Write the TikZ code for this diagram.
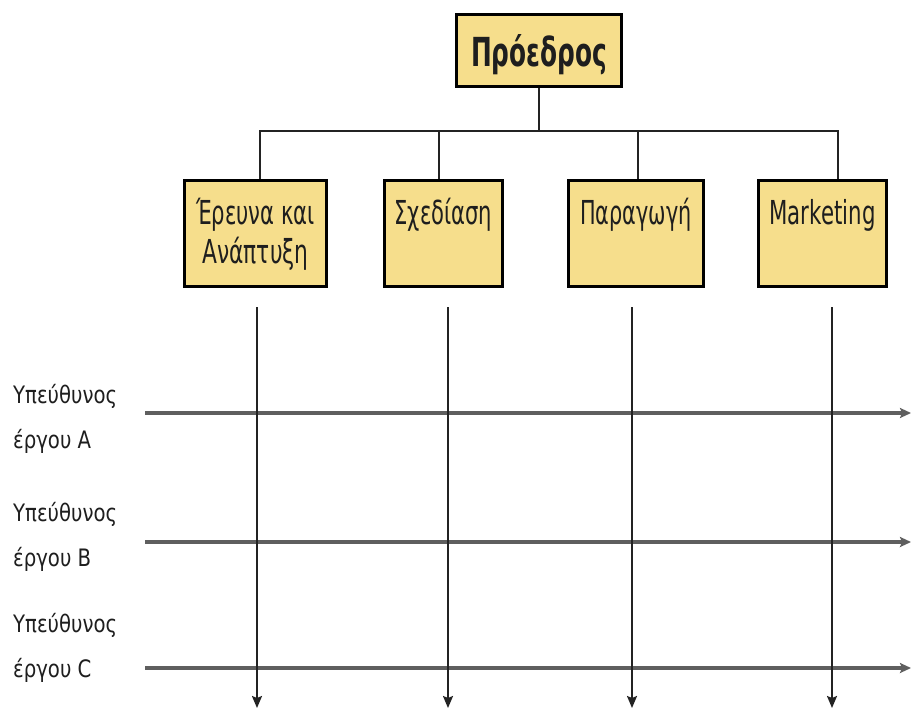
\documentclass[tikz,border=0pt]{standalone}
\usepackage{fontspec}
\usepackage{graphicx}
\setmainfont{DejaVu Sans}
\usetikzlibrary{arrows.meta}

\definecolor{boxfill}{RGB}{246,222,140}
\definecolor{inkline}{RGB}{35,35,35}
\definecolor{flowline}{RGB}{95,95,95}
\definecolor{textink}{RGB}{30,30,30}

% condensed text: #1 = horizontal squeeze
\newcommand{\unitline}[2]{\scalebox{#1}[1]{#2}}
\newcommand{\unitlabel}[1]{\fontsize{33}{39}\selectfont\begin{tabular}[t]{@{}c@{}}#1\end{tabular}}
\newcommand{\pmlabel}[1]{\fontsize{24}{45}\selectfont\scalebox{0.82}[1]{\begin{tabular}[t]{@{}l@{}}#1\end{tabular}}}

\begin{document}
\begin{tikzpicture}[x=1pt,y=-1pt,
  orgbox/.style={draw=black, line width=3pt, fill=boxfill, inner sep=0pt,
    text=textink, anchor=north, text height=43.5pt, text depth=61.5pt},
  headbox/.style={draw=black, line width=3pt, fill=boxfill, inner sep=0pt,
    text=textink, anchor=north, text height=51.5pt, text depth=20.5pt,
    minimum width=165pt},
  tree/.style={draw=inkline, line width=2pt},
  projflow/.style={draw=flowline, line width=3.5pt,
    -{Stealth[length=11pt,width=10pt,inset=2pt]}},
  unitflow/.style={draw=inkline, line width=2pt,
    -{Stealth[length=12pt,width=10pt,inset=2pt]}},
  pm/.style={anchor=base west, inner sep=0pt, text=textink}]

\useasboundingbox (0,0) rectangle (912,711);

% head of the organisation
\node[headbox] (head) at (539,13.5)
  {\fontsize{40}{44}\selectfont\bfseries\scalebox{0.62}[1]{Πρόεδρος}};

% functional departments
\node[orgbox, minimum width=142pt] (rd)  at (255.5,179.5)
  {\unitlabel{\unitline{0.64}{Έρευνα και}\\\unitline{0.66}{Ανάπτυξη}}};
\node[orgbox, minimum width=118pt] (des) at (443.5,179.5)
  {\unitlabel{\unitline{0.64}{Σχεδίαση}}};
\node[orgbox, minimum width=135pt] (prd) at (636,179.5)
  {\unitlabel{\unitline{0.63}{Παραγωγή}}};
\node[orgbox, minimum width=128pt] (mkt) at (822.5,179.5)
  {\unitlabel{\unitline{0.645}{Marketing}}};

% reporting lines
\coordinate (bus) at (539,131);
\coordinate (br1) at (260,131);
\coordinate (br2) at (439,131);
\coordinate (br3) at (638,131);
\coordinate (br4) at (838,131);
\draw[tree] (head.south) -- (bus);
\draw[tree, line cap=rect] (br1) -- (br4);
\draw[tree] (br1) -- (br1 |- rd.north);
\draw[tree] (br2) -- (br2 |- des.north);
\draw[tree] (br3) -- (br3 |- prd.north);
\draw[tree] (br4) -- (br4 |- mkt.north);

% project managers
\node[pm] (pmA) at (13,403) {\pmlabel{Υπεύθυνος\\έργου A}};
\node[pm] (pmB) at (13,521) {\pmlabel{Υπεύθυνος\\έργου B}};
\node[pm] (pmC) at (13,632) {\pmlabel{Υπεύθυνος\\έργου C}};

% project flows
\coordinate (hAs) at (145,413); \coordinate (hAe) at (911,413);
\coordinate (hBs) at (145,542); \coordinate (hBe) at (911,542);
\coordinate (hCs) at (145,668); \coordinate (hCe) at (911,668);
\draw[projflow] (hAs) -- (hAe);
\draw[projflow] (hBs) -- (hBe);
\draw[projflow] (hCs) -- (hCe);

% functional flows
\coordinate (v1s) at (257,307); \coordinate (v1e) at (257,708);
\coordinate (v2s) at (448,307); \coordinate (v2e) at (448,708);
\coordinate (v3s) at (632,307); \coordinate (v3e) at (632,708);
\coordinate (v4s) at (832,307); \coordinate (v4e) at (832,708);
\draw[unitflow] (v1s) -- (v1e);
\draw[unitflow] (v2s) -- (v2e);
\draw[unitflow] (v3s) -- (v3e);
\draw[unitflow] (v4s) -- (v4e);
\end{tikzpicture}
\end{document}
